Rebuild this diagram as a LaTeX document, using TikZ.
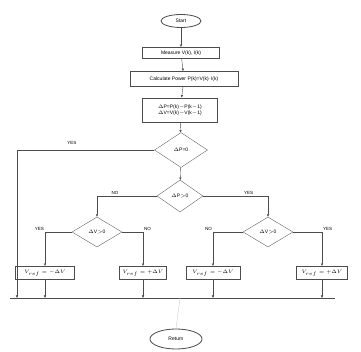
\documentclass[tikz,border=0pt]{standalone}
\usepackage{amsmath,amssymb}
\usepackage{fontspec}
\setmainfont{Liberation Sans}
\usepackage{tikz}
\usetikzlibrary{positioning,arrows.meta,shapes.geometric}
\tikzset{
  term/.style={ellipse, draw=black!70, fill=white, thick, inner sep=0pt},
  proc/.style={rectangle, draw=black!70, fill=white, thick, inner sep=1pt, align=center},
  dec/.style={diamond, draw=black!60, fill=white, aspect=1.6, inner sep=0pt},
  fl/.style={draw=black!70, thin, -{Latex[length=2.5pt,width=2.5pt]}},
  ln/.style={draw=black!70, thin},
  lbl/.style={font=\fontsize{4.5}{5}\selectfont, inner sep=1pt},
  chart/.style={x=1pt, y=-1pt, font=\fontsize{5}{6}\selectfont}
}

\begin{document}
\begin{tikzpicture}[chart]
  \useasboundingbox (0,0) rectangle (361,352);

  % Top chain
  \node[term, minimum width=40pt, minimum height=13pt] (start) at (181,21) {Start};
  \node[proc, minimum width=77pt, minimum height=11pt] (meas) at (181,53) {Measure V(k), I(k)};
  \node[proc, minimum width=108pt, minimum height=15pt] (calc) at (184,79) {Calculate Power P(k)=V(k)$\cdot$I(k)};
  \node[proc, minimum width=75pt, minimum height=24pt] (delta) at (180,110)
    {$\Delta$P=P(k)$-$P(k$-$1)\\ $\Delta$V=V(k)$-$V(k$-$1)};

  % Decisions
  \node[dec, minimum width=53pt, minimum height=35pt] (dz) at (181,150) {$\Delta$P=0};
  \node[dec, minimum width=46pt, minimum height=32pt] (dp) at (180,196) {$\Delta$P$>$0};
  \node[dec, minimum width=50pt, minimum height=30pt] (dvl) at (97,232) {$\Delta$V$>$0};
  \node[dec, minimum width=50pt, minimum height=30pt] (dvr) at (268,232) {$\Delta$V$>$0};

  % Update boxes
  \node[proc, minimum width=59pt, minimum height=13pt] (bl1) at (45,273) {$V_{ref}=-\Delta V$};
  \node[proc, minimum width=47pt, minimum height=13pt] (bl2) at (143,273) {$V_{ref}=+\Delta V$};
  \node[proc, minimum width=54pt, minimum height=13pt] (br1) at (213,273) {$V_{ref}=-\Delta V$};
  \node[proc, minimum width=51pt, minimum height=13pt] (br2) at (322,273) {$V_{ref}=+\Delta V$};

  % Collector line
  \coordinate (busL) at (10,298);
  \coordinate (busR) at (335,298);
  \coordinate (busY) at (17,298);
  \coordinate (busM) at (180,298);

  \node[term, minimum width=52pt, minimum height=20pt] (ret) at (176,339) {Return};

  % Main flow
  \draw[fl] (start) -- (meas);
  \draw[fl] (meas) -- (calc);
  \draw[fl] (calc) -- (delta);
  \draw[fl] (delta) -- (dz);
  \draw[fl] (dz) -- (dp);

  % Branches
  \draw[fl] (dz.west) -| (busY) node[lbl, pos=0.3, above=4pt] {YES};
  \draw[fl] (dp.west) -| (dvl.north) node[lbl, pos=0.35, above] {NO};
  \draw[fl] (dp.east) -| (dvr.north) node[lbl, pos=0.35, above] {YES};
  \draw[fl] (dvl.west) -| (bl1.north) node[lbl, pos=0.5, above left] {YES};
  \draw[fl] (dvl.east) -| (bl2.north) node[lbl, pos=0.5, above right] {NO};
  \draw[fl] (dvr.west) -| (br1.north) node[lbl, pos=0.5, above left] {NO};
  \draw[fl] (dvr.east) -| (br2.north) node[lbl, pos=0.5, above right] {YES};

  % Into collector
  \draw[fl] (bl1) -- (bl1 |- busL);
  \draw[fl] (bl2) -- (bl2 |- busL);
  \draw[fl] (br1) -- (br1 |- busL);
  \draw[fl] (br2) -- (br2 |- busL);
  \draw[ln] (busR) -- (busL);
  \draw[draw=black!20, thin] (busM) -- (ret.north);
\end{tikzpicture}
\end{document}
